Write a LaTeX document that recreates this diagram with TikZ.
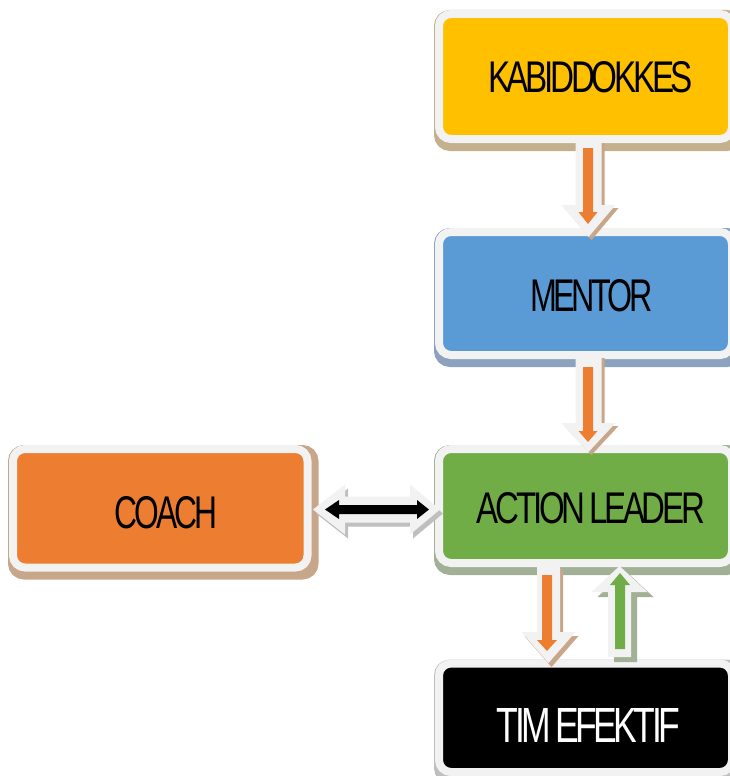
\documentclass[tikz,border=0pt]{standalone}
\usepackage{graphicx}
\usepackage{fontspec}
\setmainfont{Liberation Sans}[LetterSpace=-10]
\usetikzlibrary{backgrounds}

\definecolor{rim}{HTML}{F2F2F2}
\definecolor{cyellow}{HTML}{FFC000}
\definecolor{cblue}{HTML}{5B9BD5}
\definecolor{cgreen}{HTML}{70AD47}
\definecolor{corange}{HTML}{ED7D31}
\definecolor{shtan}{HTML}{C8A68A}
\definecolor{shkhaki}{HTML}{C4B08C}
\definecolor{shblue}{HTML}{8DA2BF}
\definecolor{shgreen}{HTML}{A2B095}
\definecolor{shgray}{HTML}{BFBFBF}

% vertical block arrow: cx, y of tail, y of head base, y of tip, half shaft, half head, style
\newcommand{\vbarrow}[7]{%
  \fill[#7] ({#1-#5},#2) -- ({#1-#5},#3) -- ({#1-#6},#3) -- (#1,#4)
    -- ({#1+#6},#3) -- ({#1+#5},#3) -- ({#1+#5},#2) -- cycle;}
% horizontal double block arrow: left tip, left back, right back, right tip, cy, half shaft, half head, style
\newcommand{\hdarrow}[8]{%
  \fill[#8] (#1,#5) -- (#2,{#5-#7}) -- (#2,{#5-#6}) -- (#3,{#5-#6}) -- (#3,{#5-#7})
    -- (#4,#5) -- (#3,{#5+#7}) -- (#3,{#5+#6}) -- (#2,{#5+#6}) -- (#2,{#5+#7}) -- cycle;}
% narrow word gap
\newcommand{\wgap}{\hspace{0.12em}}

\tikzset{
  box/.style={rectangle, rounded corners=12pt, draw=rim, line width=8pt,
    inner sep=0pt, minimum width=293pt},
  boxshadow/.style={rounded corners=12pt, line width=8pt, draw=#1, fill=#1},
  label/.style={inner sep=0pt, text=black},
}

\begin{document}
\begin{tikzpicture}[x=1pt, y=-1pt]
\useasboundingbox (0,0) rectangle (730,776);
\clip (0,0) rectangle (730,776);

% boxes
\node[box, fill=cyellow, minimum height=125pt] (kab) at (585.5,76.5) {};
\node[box, fill=cblue, minimum height=123pt] (men) at (585.5,293.5) {};
\node[box, fill=cgreen, minimum height=114pt] (act) at (585.5,506) {};
\node[box, fill=corange, minimum width=294.5pt, minimum height=118.5pt] (coach) at (160.25,508.25) {};
\node[box, fill=black, minimum height=108.5pt] (tim) at (585.5,717.75) {};

% drop shadows behind the boxes
\begin{scope}[on background layer]
  \foreach \b/\c in {kab/shkhaki, men/shblue, act/shgreen, coach/shtan, tim/shgray}
    \draw[boxshadow=\c] ([shift={(3,4)}]\b.north west) rectangle ([shift={(3,4)}]\b.south east);
\end{scope}

% box texts
\node[label] (kabt) at (590.5,77.5) {\resizebox{205pt}{31pt}{KABIDDOKKES}};
\node[label] (ment) at (591.5,296) {\resizebox{123pt}{32pt}{MENTOR}};
\node[label] (actt) at (591,508.5) {\resizebox{228pt}{31pt}{ACTION\wgap LEADER}};
\node[label] (coacht) at (166,513) {\resizebox{102pt}{32pt}{COACH}};
\node[label, text=white] (timt) at (588.5,725) {\resizebox{183pt}{34pt}{TIM\wgap EFEKTIF}};

% KABIDDOKKES -> MENTOR
\begin{scope}[shift={(3,3)}]\vbarrow{588.5}{140}{205}{237}{13}{27}{shtan}\end{scope}
\vbarrow{588.5}{140}{205}{237}{13}{27}{rim}
\vbarrow{588}{148}{212}{224}{5}{9.5}{corange}

% MENTOR -> ACTION LEADER
\begin{scope}[shift={(3,3)}]\vbarrow{588.5}{355}{423}{452}{13}{27}{shtan}\end{scope}
\vbarrow{588.5}{355}{423}{452}{13}{27}{rim}
\vbarrow{588}{367}{431}{442}{5}{9.5}{corange}

% COACH <-> ACTION LEADER
\begin{scope}[shift={(3,4)}]\hdarrow{313}{345}{410}{440}{509.5}{13}{25}{shgray}\end{scope}
\hdarrow{313}{345}{410}{440}{509.5}{13}{25}{rim}
\hdarrow{325}{339}{417}{429}{509.5}{4.5}{9.5}{black}

% ACTION LEADER -> TIM EFEKTIF
\begin{scope}[shift={(3,4)}]\vbarrow{548.5}{565}{632}{663}{11.5}{27}{shtan}\end{scope}
\vbarrow{548.5}{565}{632}{663}{11.5}{27}{rim}
\vbarrow{547}{575}{640}{651}{5}{10}{corange}

% TIM EFEKTIF -> ACTION LEADER
\begin{scope}[shift={(6,5)}]\vbarrow{619.5}{657}{592}{566}{11.5}{28}{shgreen}\end{scope}
\vbarrow{619.5}{657}{592}{566}{11.5}{28}{rim}
\vbarrow{620}{649}{585}{573}{5}{10}{cgreen}
\end{tikzpicture}
\end{document}
